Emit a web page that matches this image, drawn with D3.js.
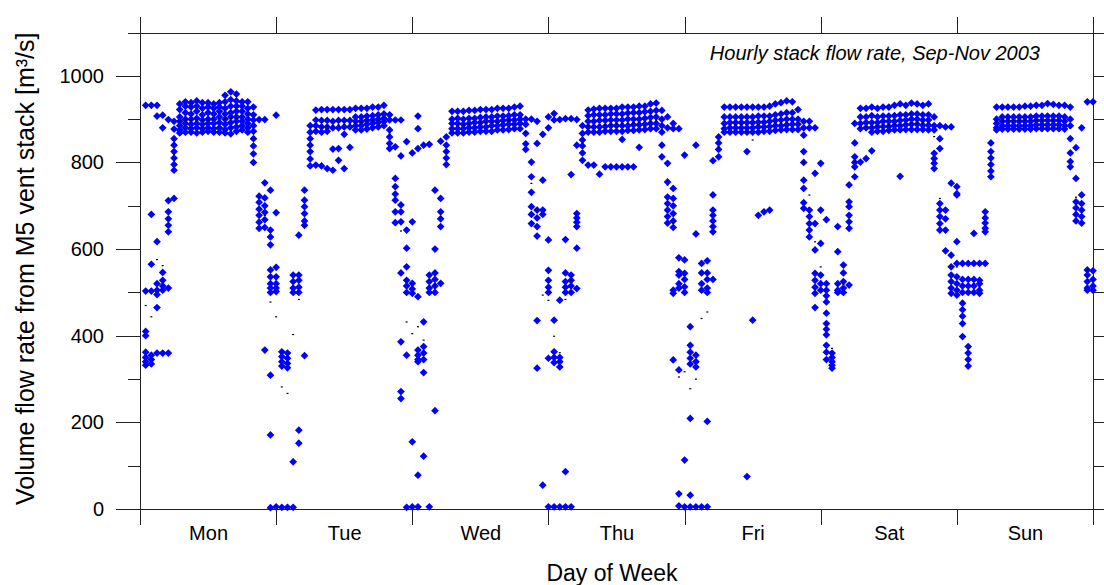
<!DOCTYPE html>
<html lang="en">
<head>
  <meta charset="UTF-8">
  <title>Hourly stack flow rate</title>
  <script src="https://d3js.org/d3.v7.min.js"></script>
  <style>
    body { margin: 0; background: #fff; }
    svg { display: block; font-family: "Liberation Sans", Arial, sans-serif; }
    .axis path, .axis line { stroke: #222; shape-rendering: crispEdges; }
    .axis text { font-size: 20px; fill: #000; font-family: "Liberation Sans", Arial, sans-serif; }
  </style>
</head>
<body>
  <svg width="1104" height="585"></svg>

  <script>
    const days = ["Mon", "Tue", "Wed", "Thu", "Fri", "Sat", "Sun"];
    const yMajor = [0, 200, 400, 600, 800, 1000];
    const yMinor = [100, 300, 500, 700, 900, 1100];

    // hourly flow values [m3/s], one list per hour (hour 1..24) for each weekday
    const mon = [
      [932, 503, 410, 400, 362, 350, 340, 332],
      [932, 680, 565, 503, 355, 345, 335],
      [932, 907, 617, 520, 505, 495, 465, 360],
      [909, 880, 546, 528, 515, 505, 360],
      [899, 712, 686, 670, 655, 640, 510, 360],
      [895, 877, 855, 840, 825, 810, 795, 782, 717],
      [935, 922, 905, 895, 885, 875, 868],
      [940, 930, 915, 900, 890, 880, 870],
      [938, 928, 912, 900, 888, 878, 870],
      [942, 930, 918, 902, 890, 880, 868],
      [938, 925, 910, 898, 888, 878, 870],
      [938, 928, 915, 900, 890, 880, 872],
      [935, 925, 912, 900, 890, 878, 870],
      [938, 928, 918, 905, 892, 880, 870],
      [955, 940, 925, 912, 900, 888, 876, 868],
      [963, 945, 930, 915, 905, 892, 880, 866],
      [958, 942, 930, 918, 905, 895, 882, 872],
      [940, 930, 918, 905, 895, 885, 875],
      [940, 925, 912, 900, 890, 880, 870],
      [928, 910, 898, 885, 872, 855, 838, 820, 800],
      [899, 722, 708, 692, 678, 662, 648],
      [899, 753, 718, 700, 685, 668, 650, 367],
      [736, 644, 628, 610, 552, 536, 520, 510, 500, 309, 171, 3],
      [909, 684, 558, 536, 520, 510, 502, 5]
    ];
    const tue = [
      [363, 352, 340, 330, 4],
      [360, 348, 336, 326, 4],
      [540, 525, 510, 500, 109, 4],
      [632, 540, 528, 512, 500, 182, 152],
      [736, 713, 698, 682, 665, 655, 354],
      [885, 870, 855, 840, 825, 808, 792],
      [921, 898, 885, 872, 794],
      [922, 897, 882, 870, 792],
      [922, 897, 882, 872, 786],
      [922, 895, 880, 831, 782],
      [922, 897, 880, 832, 805],
      [922, 897, 882, 865, 786],
      [922, 897, 882, 835],
      [925, 905, 895, 885, 875],
      [925, 905, 895, 885, 875],
      [925, 907, 897, 888, 877],
      [928, 908, 898, 890, 880],
      [928, 910, 900, 892, 882],
      [932, 912, 902, 894, 885],
      [910, 898, 875, 859, 844, 832],
      [898, 836, 763, 744, 727, 713, 686, 661],
      [898, 815, 702, 686, 663, 545, 386, 271, 255],
      [848, 644, 602, 559, 528, 515, 500, 355, 4],
      [822, 663, 521, 508, 498, 155, 5]
    ];
    const wed = [
      [907, 878, 832, 490, 367, 355, 345, 340, 78, 5],
      [840, 432, 375, 360, 345, 315, 122],
      [842, 540, 525, 510, 500, 5],
      [736, 600, 545, 530, 515, 500, 227],
      [849, 717, 686, 670, 652, 521],
      [859, 840, 825, 810, 795],
      [918, 900, 890, 878, 868],
      [918, 902, 890, 878, 868],
      [918, 900, 888, 878, 868],
      [920, 902, 890, 880, 870],
      [920, 902, 892, 880, 870],
      [922, 904, 892, 882, 872],
      [922, 905, 895, 882, 872],
      [922, 905, 895, 885, 872],
      [925, 907, 895, 885, 875],
      [925, 907, 897, 887, 875],
      [925, 908, 898, 888, 876],
      [928, 910, 898, 888, 878],
      [930, 910, 900, 890, 878],
      [900, 888, 867, 843, 830],
      [900, 801, 767, 731, 698, 680, 659],
      [895, 844, 690, 672, 652, 630, 435, 325],
      [865, 759, 690, 680, 55],
      [905, 880, 621, 551, 528, 512, 500, 348, 5]
    ];
    const thu = [
      [913, 898, 436, 363, 350, 338, 5],
      [899, 482, 350, 340, 328, 5],
      [901, 622, 545, 525, 512, 500, 86, 5],
      [901, 772, 540, 528, 515, 500, 5],
      [899, 840, 682, 672, 662, 652, 602, 509],
      [885, 867, 852, 838, 822, 805],
      [921, 908, 895, 882, 870, 794],
      [923, 910, 895, 882, 870, 794],
      [925, 910, 897, 882, 870, 773],
      [925, 910, 897, 883, 872, 790],
      [925, 912, 898, 885, 872, 790],
      [925, 912, 898, 885, 872, 790],
      [928, 912, 898, 885, 872, 853, 790],
      [928, 914, 900, 885, 874, 790],
      [928, 915, 900, 887, 874, 790],
      [930, 915, 900, 887, 875, 835],
      [930, 917, 902, 888, 876],
      [935, 918, 904, 890, 878],
      [937, 920, 905, 890, 878],
      [920, 900, 885, 870, 840, 813],
      [905, 880, 798, 755, 720, 705, 690, 675, 660],
      [890, 878, 740, 717, 700, 682, 665, 650, 505, 498, 344],
      [878, 580, 548, 540, 520, 510, 321, 35, 7],
      [817, 575, 544, 530, 513, 500, 113, 5]
    ];
    const fri = [
      [421, 378, 362, 348, 335, 209, 32, 5],
      [840, 635, 355, 340, 328, 5],
      [567, 545, 520, 505, 5],
      [573, 545, 530, 510, 500, 202, 5],
      [804, 725, 690, 678, 665, 652, 640, 530],
      [859, 845, 830, 813],
      [928, 905, 890, 878, 870],
      [928, 905, 892, 880, 870],
      [928, 905, 892, 880, 870],
      [928, 905, 892, 880, 870],
      [928, 905, 892, 880, 870, 825, 75],
      [928, 905, 892, 880, 870, 436],
      [928, 907, 893, 882, 870, 678],
      [928, 907, 893, 882, 872, 686],
      [930, 907, 895, 883, 872, 690],
      [935, 910, 897, 885, 874],
      [938, 912, 898, 885, 875],
      [942, 915, 900, 887, 876],
      [940, 915, 900, 888, 876],
      [922, 900, 888, 876],
      [895, 880, 863, 825, 800, 759, 740, 707, 694],
      [895, 880, 690, 675, 659, 644, 628],
      [880, 775, 659, 598, 544, 528, 512, 498, 465],
      [798, 690, 613, 540, 520, 505]
    ];
    const sat = [
      [668, 520, 505, 492, 478, 452, 428, 415, 402, 378, 362, 345],
      [360, 350, 340, 332, 325],
      [652, 594, 520, 505, 500],
      [563, 545, 525, 510, 500],
      [748, 709, 698, 678, 663, 648, 517],
      [890, 845, 813, 800, 790, 767],
      [925, 905, 890, 878, 801],
      [925, 905, 892, 880, 809],
      [928, 908, 892, 880, 870, 827],
      [925, 905, 892, 882, 872],
      [928, 907, 895, 883, 872],
      [928, 907, 895, 883, 874],
      [932, 908, 895, 885, 875],
      [935, 910, 897, 885, 875, 768],
      [932, 910, 898, 887, 876],
      [937, 912, 900, 888, 876],
      [935, 912, 900, 888, 876],
      [932, 910, 898, 886, 876],
      [935, 910, 898, 886, 875],
      [905, 885, 875, 821, 809, 798, 786],
      [885, 855, 832, 705, 690, 675, 659, 644],
      [882, 690, 670, 644, 596],
      [882, 752, 586, 559, 540, 525, 510, 498],
      [744, 728, 725, 617, 567, 536, 520, 505, 494]
    ];
    const sun = [
      [567, 530, 515, 500, 475, 460, 445, 428, 398],
      [567, 530, 515, 500, 375, 360, 345, 330],
      [636, 567, 530, 515, 500],
      [567, 528, 520, 505, 498],
      [567, 686, 672, 660, 648, 640],
      [845, 825, 810, 795, 780, 767],
      [928, 900, 890, 880, 875],
      [928, 905, 895, 885, 877],
      [928, 905, 895, 885, 877],
      [928, 905, 895, 885, 877],
      [928, 905, 895, 885, 877],
      [930, 905, 895, 885, 877],
      [930, 905, 895, 885, 877],
      [932, 907, 897, 887, 878],
      [932, 907, 897, 887, 878],
      [936, 907, 897, 887, 878],
      [934, 907, 897, 887, 878],
      [932, 907, 897, 887, 878],
      [932, 905, 895, 885, 877],
      [928, 900, 885, 855, 822, 802, 790],
      [834, 763, 709, 695, 680, 665],
      [880, 725, 705, 690, 675, 660],
      [940, 552, 540, 525, 510, 505],
      [940, 550, 530, 515, 505]
    ];

    // hourly average (small black dots)
    const meanMon = [470, 444, 576, 562, 667, 819, 896, 897, 897, 898, 898, 898, 899, 900, 901, 902, 903, 904, 904, 855, 720, 678, 478, 444];
    const meanTue = [282, 267, 403, 484, 653, 836, 880, 882, 884, 885, 887, 888, 890, 892, 893, 895, 896, 898, 899, 868, 740, 642, 432, 405];
    const meanWed = [421, 390, 502, 517, 676, 825, 886, 887, 888, 889, 890, 891, 892, 893, 894, 895, 896, 898, 899, 870, 752, 690, 494, 482];
    const meanThu = [399, 361, 484, 528, 682, 845, 884, 885, 886, 887, 888, 889, 890, 891, 892, 893, 894, 896, 898, 876, 748, 661, 305, 317];
    const meanFri = [278, 300, 440, 455, 650, 836, 886, 887, 887, 888, 870, 852, 888, 889, 890, 891, 892, 893, 894, 893, 800, 725, 617, 559];
    const meanSat = [428, 371, 517, 519, 663, 804, 882, 883, 884, 885, 886, 887, 888, 889, 890, 891, 892, 893, 894, 860, 717, 640, 560, 559];
    const meanSun = [480, 371, 521, 513, 655, 799, 896, 896, 897, 897, 897, 898, 898, 898, 898, 899, 899, 899, 899, 880, 720, 690, 552, 530];

    const week = [mon, tue, wed, thu, fri, sat, sun];
    const weekMean = [meanMon, meanTue, meanWed, meanThu, meanFri, meanSat, meanSun];

    const points = week.flatMap((day, d) =>
      day.flatMap((vals, i) => vals.map(v => ({ x: d + (i + 1) / 24, y: v }))));
    const means = weekMean.flatMap((day, d) =>
      day.map((v, i) => ({ x: d + (i + 1) / 24, y: v })));

    const svg = d3.select("svg");
    const plotL = 140, plotR = 1093, plotT = 32.5, plotB = 509;

    const x = d3.scaleLinear().domain([0, 7]).range([plotL, plotR]);
    const y = d3.scaleLinear().domain([0, 1100]).range([plotB, plotT]);

    // axes: ticks drawn outward on all four sides
    svg.append("g").attr("class", "axis")
      .attr("transform", `translate(${plotL},0)`)
      .call(d3.axisLeft(y).tickValues(yMinor).tickSize(12).tickSizeOuter(0).tickFormat(""));
    svg.append("g").attr("class", "axis")
      .attr("transform", `translate(${plotL},0)`)
      .call(d3.axisLeft(y).tickValues(yMajor).tickSize(24).tickSizeOuter(0).tickPadding(12)
        .tickFormat(d3.format("d")));
    svg.append("g").attr("class", "axis")
      .attr("transform", `translate(${plotR},0)`)
      .call(d3.axisRight(y).tickValues(yMinor).tickSize(12).tickSizeOuter(0).tickFormat(""));
    svg.append("g").attr("class", "axis")
      .attr("transform", `translate(${plotR},0)`)
      .call(d3.axisRight(y).tickValues(yMajor).tickSize(24).tickSizeOuter(0).tickFormat(""));

    const dayTicks = d3.range(0, 8);
    svg.append("g").attr("class", "axis")
      .attr("transform", `translate(0,${plotT})`)
      .call(d3.axisTop(x).tickValues(dayTicks).tickSize(16).tickSizeOuter(0).tickFormat(""));
    svg.append("g").attr("class", "axis")
      .attr("transform", `translate(0,${plotB})`)
      .call(d3.axisBottom(x).tickValues(dayTicks).tickSize(16).tickSizeOuter(0).tickFormat(""));

    const dayLabels = svg.append("g").attr("class", "axis")
      .attr("transform", `translate(0,${plotB})`)
      .call(d3.axisBottom(x).tickValues(days.map((_, i) => i + 0.5))
        .tickSize(0).tickFormat((d, i) => days[i]));
    dayLabels.select(".domain").remove();
    dayLabels.selectAll("text").attr("y", 31).attr("dy", 0);

    // data
    const diamond = d3.symbol(d3.symbolSquare, 30)();
    svg.append("g")
      .selectAll("path")
      .data(points)
      .join("path")
      .attr("d", diamond)
      .attr("fill", "#0000ff")
      .attr("transform", d => `translate(${x(d.x)},${y(d.y)}) rotate(45)`);

    svg.append("g")
      .selectAll("rect")
      .data(means)
      .join("rect")
      .attr("x", d => x(d.x) - 1)
      .attr("y", d => y(d.y) - 0.5)
      .attr("width", 2)
      .attr("height", 1.2)
      .attr("fill", "#000");

    // titles
    svg.append("text")
      .attr("x", 1040).attr("y", 60)
      .attr("text-anchor", "end")
      .style("font-size", "20px").style("font-style", "italic")
      .text("Hourly stack flow rate, Sep-Nov 2003");

    svg.append("text")
      .attr("x", 612).attr("y", 581)
      .attr("text-anchor", "middle")
      .style("font-size", "23px")
      .text("Day of Week");

    svg.append("text")
      .attr("transform", `translate(34,${(plotT + plotB) / 2 - 2}) rotate(-90)`)
      .attr("text-anchor", "middle")
      .style("font-size", "25px")
      .text("Volume flow rate from M5 vent stack [m³/s]");
  </script>
</body>
</html>
